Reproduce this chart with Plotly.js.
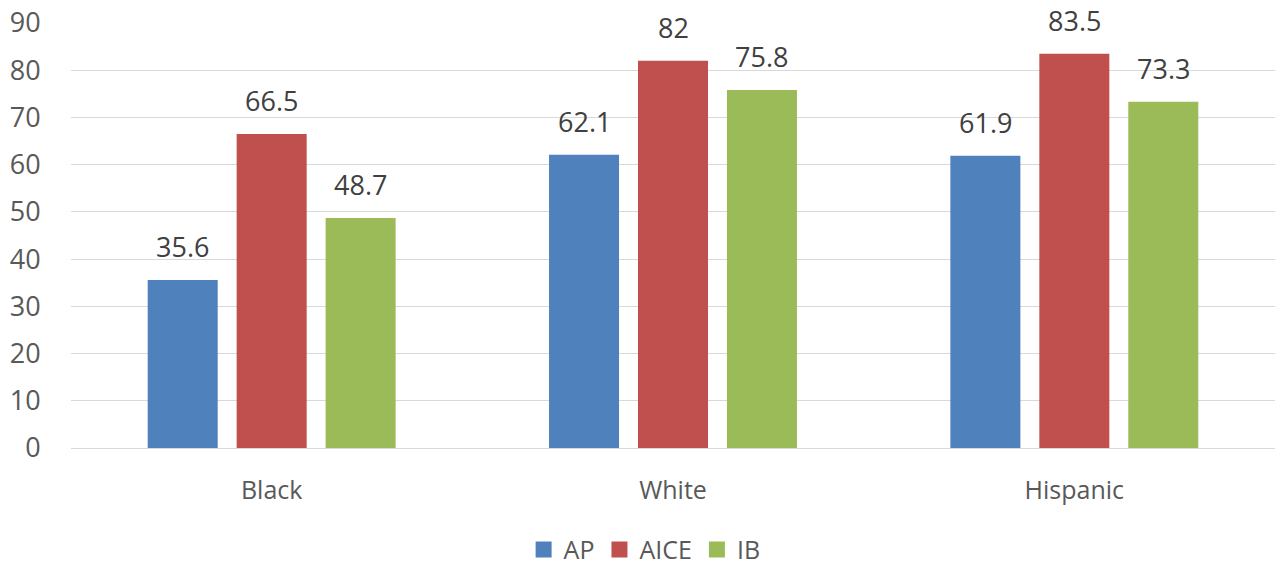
<!DOCTYPE html>
<html>
<head>
<meta charset="utf-8">
<script src="https://cdn.plot.ly/plotly-3.0.1.min.js"></script>
<style>html,body{margin:0;padding:0;background:#fff;}#chart{width:1279px;height:565px;}</style>
</head>
<body>
<div id="chart"></div>
<script>
var categories = ["Black", "White", "Hispanic"];
var seriesNames = ["AP", "AICE", "IB"];
var apValues = [35.6, 62.1, 61.9];
var aiceValues = [66.5, 82, 83.5];
var ibValues = [48.7, 75.8, 73.3];
var yTicks = [0, 10, 20, 30, 40, 50, 60, 70, 80, 90];

var colors = ["#4F81BD", "#C0504D", "#9BBB59"];
var values = [apValues, aiceValues, ibValues];
var FONT = "Open Sans, Liberation Sans, sans-serif";
var BARGAP = 0.335;

var traces = [];
values.forEach(function (v, i) {
  traces.push({
    type: "bar",
    name: seriesNames[i],
    x: categories,
    y: v,
    marker: {color: colors[i]},
    showlegend: false,
    hoverinfo: "none"
  });
});
// legend entries (square swatches)
values.forEach(function (v, i) {
  traces.push({
    type: "scatter",
    mode: "markers",
    name: seriesNames[i],
    x: [null],
    y: [null],
    marker: {color: colors[i], symbol: "square", size: 16},
    showlegend: true,
    hoverinfo: "none"
  });
});

// data labels, positioned via axis data coordinates
var slot = (1 - BARGAP) / seriesNames.length;
var annotations = [];
values.forEach(function (v, j) {
  v.forEach(function (val, i) {
    annotations.push({
      xref: "x", yref: "y",
      x: i + (j - (seriesNames.length - 1) / 2) * slot,
      y: val,
      text: String(val),
      showarrow: false,
      xanchor: "center",
      yanchor: "bottom",
      yshift: 13,
      font: {family: FONT, size: 27, color: "#404040"}
    });
  });
});

var layout = {
  width: 1279,
  height: 565,
  margin: {l: 71, r: 4, t: 23, b: 117},
  paper_bgcolor: "#ffffff",
  plot_bgcolor: "#ffffff",
  barmode: "group",
  bargap: BARGAP,
  bargroupgap: 0.213,
  font: {family: FONT, color: "#595959"},
  showlegend: true,
  annotations: annotations,
  legend: {
    orientation: "h",
    xref: "container", yref: "container",
    x: 0.504, xanchor: "center",
    y: 0.027, yanchor: "middle",
    font: {family: FONT, size: 25, color: "#595959"},
    itemwidth: 30,
    itemsizing: "trace"
  },
  xaxis: {
    type: "category",
    range: [-0.5, 2.5],
    automargin: false,
    tickfont: {family: FONT, size: 25, color: "#595959"},
    showgrid: false,
    showline: true,
    linecolor: "#D9D9D9",
    linewidth: 1,
    ticks: "outside",
    ticklen: 20,
    tickcolor: "rgba(0,0,0,0)"
  },
  yaxis: {
    range: [0, 90],
    automargin: false,
    tickvals: yTicks,
    ticktext: yTicks.map(String),
    tickfont: {family: FONT, size: 27, color: "#595959"},
    showgrid: true,
    gridcolor: "#D9D9D9",
    gridwidth: 1,
    zeroline: false,
    showline: false,
    ticks: "outside",
    ticklen: 24,
    tickcolor: "rgba(0,0,0,0)"
  }
};

Plotly.newPlot("chart", traces, layout, {displayModeBar: false, staticPlot: true});
</script>
</body>
</html>
